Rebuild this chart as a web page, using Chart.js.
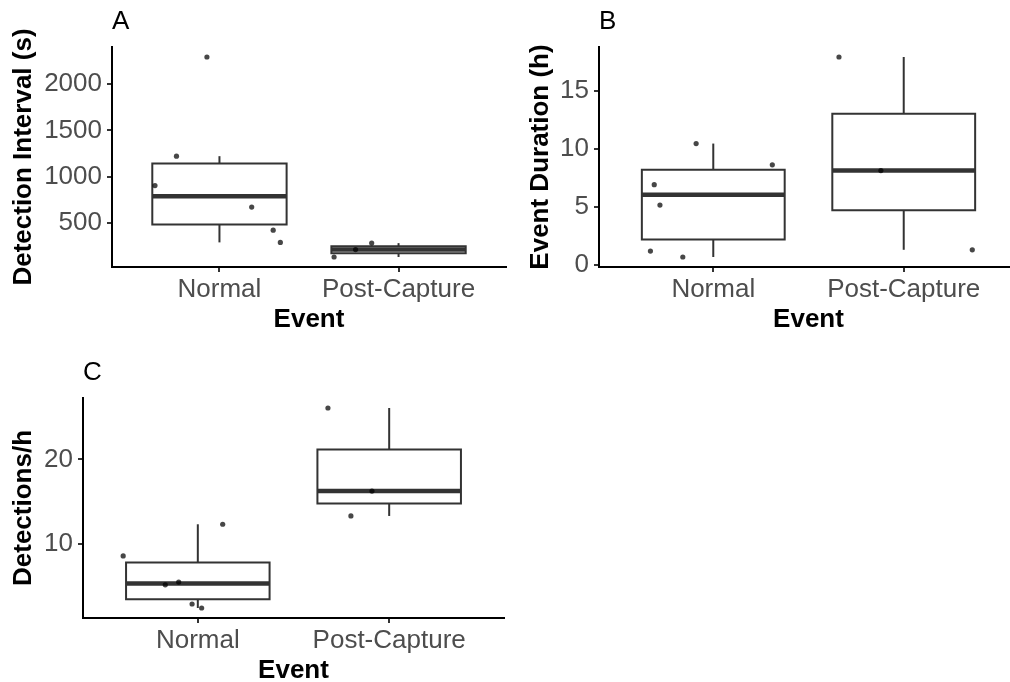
<!DOCTYPE html>
<html>
<head>
<meta charset="utf-8">
<title>Detection boxplots</title>
<script src="https://cdn.jsdelivr.net/npm/chart.js@4.4.1/dist/chart.umd.min.js"></script>
<style>
  body { margin: 0; background: #fff; }
  #wrap { position: relative; width: 1010px; height: 682px; overflow: hidden; background: #fff; }
  #wrap canvas { position: absolute; }
</style>
</head>
<body>
<div id="wrap">
  <canvas id="panelA" width="510" height="340" style="left:0;top:0"></canvas>
  <canvas id="panelB" width="522" height="340" style="left:500px;top:0"></canvas>
  <canvas id="panelC" width="508" height="340" style="left:0;top:351px"></canvas>
</div>
<script>
var groups = ["Normal", "Post-Capture"];

// detection interval (s)
var intervalNormal = [2293, 1221, 903, 671, 421, 289];
var intervalPost = [131, 211, 281];
var intervalJitterNormal = [-0.07, -0.24, -0.36, 0.18, 0.30, 0.34];
var intervalJitterPost = [-0.36, -0.24, -0.15];
var intervalTicks = [500, 1000, 1500, 2000];

// event duration (h)
var durationNormal = [10.46, 8.63, 6.93, 5.17, 1.22, 0.71];
var durationPost = [17.9, 8.14, 1.33];
var durationJitterNormal = [-0.09, 0.31, -0.31, -0.28, -0.33, -0.16];
var durationJitterPost = [-0.34, -0.12, 0.36];
var durationTicks = [0, 5, 10, 15];

// detections per hour
var rateNormal = [12.35, 8.62, 5.53, 5.21, 2.94, 2.47];
var ratePost = [26.07, 16.27, 13.33];
var rateJitterNormal = [0.13, -0.39, -0.10, -0.17, -0.03, 0.02];
var rateJitterPost = [-0.32, -0.09, -0.20];
var rateTicks = [10, 20];

var FONT = '"Liberation Sans", Arial, sans-serif';
var BOX_WIDTH = 0.75;

// type 7 quantile on a sorted array
function quantile(sorted, p) {
  var pos = (sorted.length - 1) * p;
  var lo = Math.floor(pos), hi = Math.ceil(pos);
  return sorted[lo] + (sorted[hi] - sorted[lo]) * (pos - lo);
}

function boxStats(values) {
  var s = values.slice().sort(function (a, b) { return a - b; });
  var q1 = quantile(s, 0.25), med = quantile(s, 0.5), q3 = quantile(s, 0.75);
  var iqr = q3 - q1;
  var inside = s.filter(function (v) { return v >= q1 - 1.5 * iqr && v <= q3 + 1.5 * iqr; });
  return { q1: q1, med: med, q3: q3, lo: inside[0], hi: inside[inside.length - 1] };
}

// box outline, whiskers and median as line datasets
function boxDatasets(values, centre) {
  var b = boxStats(values);
  var l = centre - BOX_WIDTH / 2, r = centre + BOX_WIDTH / 2;
  var base = {
    showLine: true, pointRadius: 0, borderColor: "#333333", borderWidth: 2,
    tension: 0, fill: false, order: 1, borderCapStyle: "butt", borderJoinStyle: "miter"
  };
  return [
    Object.assign({}, base, {
      borderCapStyle: "square",
      data: [{ x: l, y: b.q1 }, { x: r, y: b.q1 }, { x: r, y: b.q3 }, { x: l, y: b.q3 }, { x: l, y: b.q1 }]
    }),
    Object.assign({}, base, { data: [{ x: centre, y: b.q3 }, { x: centre, y: b.hi }] }),
    Object.assign({}, base, { data: [{ x: centre, y: b.lo }, { x: centre, y: b.q1 }] }),
    Object.assign({}, base, { borderWidth: 4.5, data: [{ x: l, y: b.med }, { x: r, y: b.med }] })
  ];
}

// y range padded by 5% of the data span
function yLimits(values) {
  var lo = Math.min.apply(null, values), hi = Math.max.apply(null, values);
  var pad = (hi - lo) * 0.05;
  return { min: lo - pad, max: hi + pad };
}

// panel letter above the top-left corner of the plot area
var panelTag = {
  id: "panelTag",
  afterDraw: function (chart, args, opts) {
    var ctx = chart.ctx, area = chart.chartArea;
    ctx.save();
    ctx.font = "26px " + FONT;
    ctx.fillStyle = "#000";
    ctx.textBaseline = "alphabetic";
    ctx.textAlign = "left";
    ctx.fillText(opts.text, area.left, area.top - 18.5);
    ctx.restore();
  }
};

function axisGrid() {
  return {
    display: true, drawOnChartArea: false, drawTicks: true, tickLength: 5,
    color: "#333333", lineWidth: 2, tickColor: "#333333", tickWidth: 2
  };
}

function makePanel(id, cfg) {
  var lim = yLimits(cfg.normal.concat(cfg.post));
  var points = cfg.normal.map(function (v, i) { return { x: 1 + cfg.jitterNormal[i], y: v }; })
    .concat(cfg.post.map(function (v, i) { return { x: 2 + cfg.jitterPost[i], y: v }; }));

  // jittered observations, semi-transparent so they still show on the median bar
  var datasets = [{
    data: points, order: 0, pointRadius: 2.6, pointBackgroundColor: "rgba(0,0,0,0.72)",
    pointBorderWidth: 0, showLine: false
  }].concat(boxDatasets(cfg.normal, 1), boxDatasets(cfg.post, 2));

  return new Chart(document.getElementById(id), {
    type: "scatter",
    data: { datasets: datasets },
    plugins: [panelTag],
    options: {
      responsive: false,
      animation: false,
      events: [],
      layout: { padding: { top: 47, right: cfg.padRight, left: 0, bottom: 0 } },
      plugins: {
        legend: { display: false },
        tooltip: { enabled: false },
        panelTag: { text: cfg.tag }
      },
      scales: {
        x: {
          type: "linear", min: 0.4, max: 2.6,
          afterBuildTicks: function (s) { s.ticks = [1, 2].map(function (v) { return { value: v }; }); },
          afterFit: function (s) { s.height = 73; },
          ticks: {
            callback: function (v) { return groups[v - 1]; },
            color: "#4d4d4d", font: { family: FONT, size: 26 }, padding: 2.5,
            maxRotation: 0, autoSkip: false
          },
          grid: axisGrid(),
          border: { display: true, color: "#000", width: 2 },
          title: {
            display: true, text: "Event", color: "#000",
            font: { family: FONT, size: 26, weight: "bold" },
            padding: { top: 0, bottom: 4.2 }
          }
        },
        y: {
          type: "linear", min: lim.min, max: lim.max,
          afterBuildTicks: function (s) { s.ticks = cfg.ticks.map(function (v) { return { value: v }; }); },
          afterFit: function (s) { s.width = cfg.axisWidth; },
          ticks: {
            callback: function (v) { return String(v); },
            color: "#4d4d4d", font: { family: FONT, size: 26 }, padding: 5
          },
          grid: axisGrid(),
          border: { display: true, color: "#000", width: 2 },
          title: {
            display: true, text: cfg.title, color: "#000",
            font: { family: FONT, size: 26, weight: "bold" },
            padding: { top: cfg.titlePad, bottom: 0 }
          }
        }
      }
    }
  });
}

makePanel("panelA", {
  tag: "A", title: "Detection Interval (s)",
  normal: intervalNormal, post: intervalPost,
  jitterNormal: intervalJitterNormal, jitterPost: intervalJitterPost,
  ticks: intervalTicks, axisWidth: 112, titlePad: 8.4, padRight: 4
});

makePanel("panelB", {
  tag: "B", title: "Event Duration (h)",
  normal: durationNormal, post: durationPost,
  jitterNormal: durationJitterNormal, jitterPost: durationJitterPost,
  ticks: durationTicks, axisWidth: 99, titlePad: 25.4, padRight: 0
});

makePanel("panelC", {
  tag: "C", title: "Detections/h",
  normal: rateNormal, post: ratePost,
  jitterNormal: rateJitterNormal, jitterPost: rateJitterPost,
  ticks: rateTicks, axisWidth: 83, titlePad: 8.4, padRight: 4
});
</script>
</body>
</html>
